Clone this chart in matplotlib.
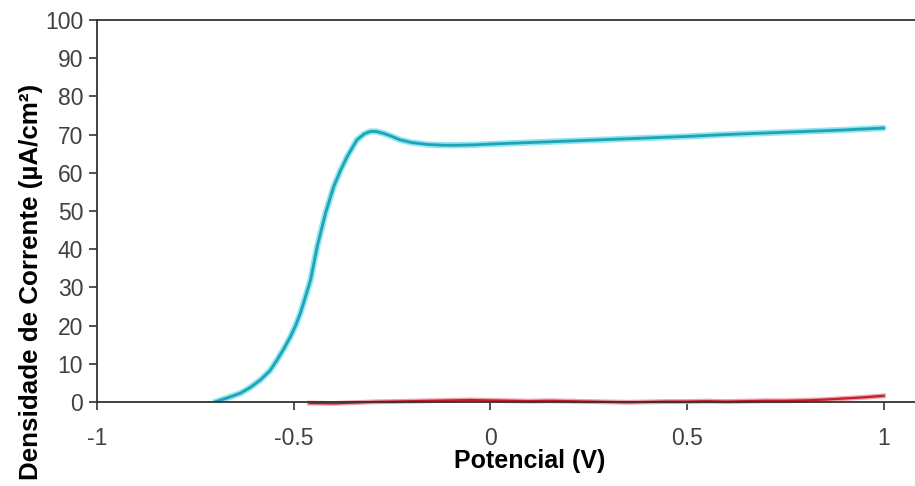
import numpy as np
import matplotlib.pyplot as plt

# -- Dados -- #

# curva azul (ciano)
potAzul = [-0.70, -0.67, -0.635, -0.61, -0.584, -0.56, -0.542, -0.525, -0.508, -0.495,
           -0.483, -0.47, -0.457, -0.44, -0.419, -0.398, -0.38, -0.364, -0.339, -0.32,
           -0.305, -0.29, -0.271, -0.25, -0.229, -0.20, -0.16, -0.12, -0.08, -0.04,
           0.00, 0.10, 0.20, 0.30, 0.40, 0.50, 0.60, 0.70, 0.80, 0.90, 1.00]
corAzul = [0.0, 1.0, 2.3, 3.8, 5.8, 8.2, 11.0, 13.9, 17.1, 20.0,
           23.2, 27.5, 31.9, 40.7, 49.4, 56.4, 60.8, 64.2, 68.6, 70.2,
           70.8, 70.8, 70.3, 69.5, 68.6, 67.9, 67.4, 67.2, 67.2, 67.3,
           67.5, 67.9, 68.3, 68.7, 69.1, 69.5, 70.0, 70.4, 70.8, 71.2, 71.7]

# curva vermelha
potVerm = [-0.46, -0.40, -0.35, -0.30, -0.25, -0.20, -0.15, -0.10, -0.05, 0.00,
           0.05, 0.10, 0.15, 0.20, 0.25, 0.30, 0.35, 0.40, 0.45, 0.50,
           0.55, 0.60, 0.65, 0.70, 0.75, 0.80, 0.85, 0.90, 0.95, 1.00]
corVerm = [-0.3, -0.4, -0.2, 0.0, 0.1, 0.2, 0.3, 0.4, 0.5, 0.4,
           0.3, 0.2, 0.3, 0.2, 0.1, 0.0, -0.1, 0.0, 0.1, 0.1,
           0.2, 0.1, 0.2, 0.3, 0.3, 0.4, 0.6, 0.9, 1.2, 1.6]

xticks = [-1, -0.5, 0, 0.5, 1]
xlabels = ['-1', '-0.5', '0', '0.5', '1']
yticks = list(range(0, 101, 10))

# -- Tracé -- #

plt.rcParams['font.family'] = ['Liberation Sans', 'DejaVu Sans']

fig = plt.figure(figsize=(9.15, 4.86), dpi=100)
ax = fig.add_axes([0.106, 0.173, 0.894, 0.786])

ax.plot(potAzul, corAzul, color='#8fe6f2', lw=4.5, solid_capstyle='round')
ax.plot(potAzul, corAzul, color='#1fa3b5', lw=2.0)
ax.plot(potVerm, corVerm, color='#f2a0a8', lw=3.5, clip_on=False)
ax.plot(potVerm, corVerm, color='#c0202c', lw=1.6, clip_on=False)

ax.set_xlim(-1, 1.08)
ax.set_ylim(0, 100)
ax.set_xticks(xticks)
ax.set_xticklabels(xlabels)
ax.set_yticks(yticks)

ax.spines['right'].set_visible(False)
for s in ['left', 'bottom', 'top']:
    ax.spines[s].set_color('#333333')
    ax.spines[s].set_linewidth(1.3)

ax.tick_params(axis='both', direction='out', length=6, width=1.2, color='#333333',
               labelsize=16.5, labelcolor='#404040')
ax.tick_params(axis='x', pad=12)
ax.tick_params(axis='y', pad=4)

ax.set_xlabel('Potencial (V)', fontsize=18, fontweight='bold')
ax.set_ylabel('Densidade de Corrente (µA/cm²)', fontsize=18.7, fontweight='bold')
ax.xaxis.set_label_coords(0.529, -0.122)
ax.yaxis.set_label_coords(-0.066, 0.314)

fig.savefig('out.png', dpi=100)
